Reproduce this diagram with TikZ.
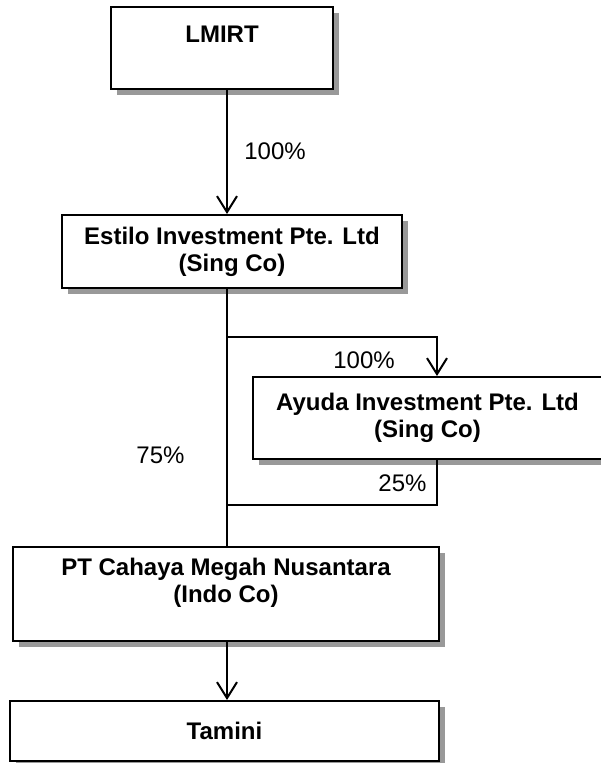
\documentclass[tikz,border=0pt]{standalone}
\usepackage{fontspec}
\setmainfont{Liberation Sans}
\usetikzlibrary{arrows.meta,positioning,shadows}

\begin{document}
\begin{tikzpicture}[
    x=0.5pt, y=-0.5pt,
    font=\fontsize{12}{13.5}\selectfont,
    entity/.style={draw, fill=white, line width=1pt, align=center, inner sep=0pt,
        font=\fontsize{12}{13.5}\selectfont\bfseries,
        drop shadow={shadow xshift=3pt, shadow yshift=-3pt, fill=black!40, opacity=1}},
    link/.style={line width=1pt},
    own/.style={link, -{Straight Barb[length=8pt, width=10pt]}},
    pct/.style={inner sep=0pt}
]
\useasboundingbox (0,0) rectangle (600,763);

\node[entity, minimum width=111pt, minimum height=41pt] (lmirt) at (222,48) {LMIRT\\~};
\node[entity, minimum width=170pt, minimum height=36.5pt] (estilo) at (232,251.5) {Estilo Investment Pte. Ltd\\(Sing Co)};
\node[entity, minimum width=174.5pt, minimum height=41pt] (ayuda) at (427.5,418) {Ayuda Investment Pte. Ltd\\(Sing Co)};
\node[entity, minimum width=213pt, minimum height=47pt] (cahaya) at (226,594) {PT Cahaya Megah Nusantara\\(Indo Co)\\~};
\node[entity, minimum width=214.5pt, minimum height=30pt] (tamini) at (224.5,731) {Tamini};

\coordinate (trunk) at (227,0);
\coordinate (feed) at (437,0);
\coordinate (split) at (227,337);
\coordinate (join) at (227,505);

\draw[own] (lmirt.south -| trunk) -- (estilo.north -| trunk);
\draw[link] (estilo.south -| trunk) -- (cahaya.north -| trunk);
\draw[own] (split) -| (ayuda.north -| feed);
\draw[link] (ayuda.south -| feed) |- (join);
\draw[own] (cahaya.south -| trunk) -- (tamini.north -| trunk);

\node[pct] (p1) at (275,151) {100\%};
\node[pct] (p2) at (364,360.5) {100\%};
\node[pct] (p3) at (160.5,455) {75\%};
\node[pct] (p4) at (402.5,483) {25\%};
\end{tikzpicture}
\end{document}
